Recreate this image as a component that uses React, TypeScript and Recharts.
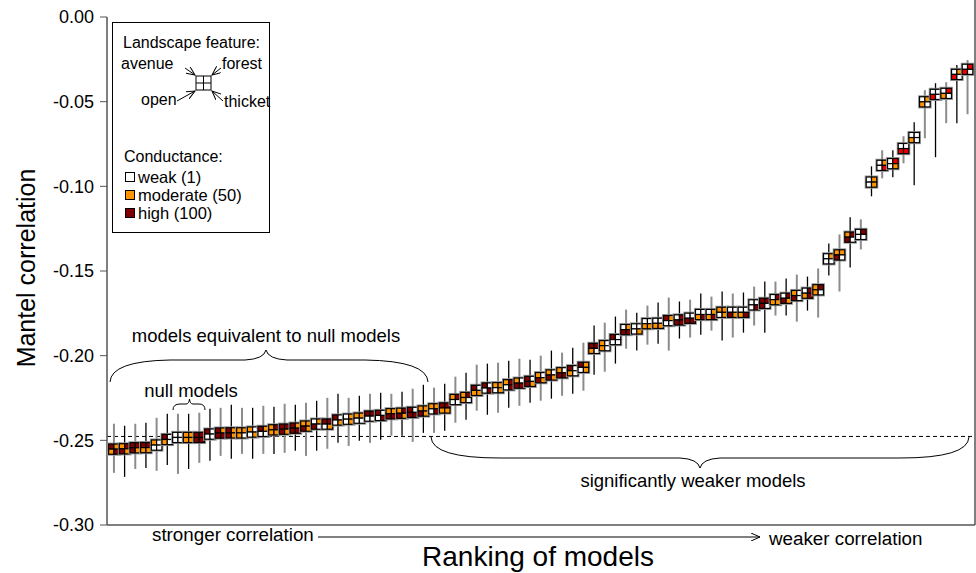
import React from 'react'
import { ComposedChart, Scatter, XAxis, YAxis, ErrorBar, ReferenceLine } from 'recharts'

// ─── Data ────────────────────────────────────────────────────────────────────

const FONT = '"Liberation Sans", Arial, Helvetica, sans-serif'

// Mantel correlation per model, in ranking order
const mantel = [
  -0.2552, -0.2550, -0.2544, -0.2543, -0.2528, -0.2495, -0.2483, -0.2483, -0.2483, -0.2463,
  -0.2457, -0.2456, -0.2456, -0.2451, -0.2447, -0.2438, -0.2434, -0.2428, -0.2416, -0.2404,
  -0.2404, -0.2380, -0.2375, -0.2369, -0.2357, -0.2353, -0.2343, -0.2340, -0.2335, -0.2327,
  -0.2314, -0.2309, -0.2259, -0.2247, -0.2205, -0.2191, -0.2189, -0.2172, -0.2162, -0.2152,
  -0.2130, -0.2114, -0.2101, -0.2089, -0.2069, -0.1957, -0.1941, -0.1905, -0.1846, -0.1842,
  -0.1811, -0.1809, -0.1793, -0.1789, -0.1779, -0.1757, -0.1757, -0.1744, -0.1744, -0.1744,
  -0.1700, -0.1691, -0.1669, -0.1661, -0.1645, -0.1631, -0.1611, -0.1428, -0.1405, -0.1300,
  -0.1284, -0.0975, -0.0876, -0.0866, -0.0777, -0.0712, -0.0501, -0.0457, -0.0451, -0.0339,
  -0.0309,
]

// upper end of each interval
const ciHigh = [
  -0.2402, -0.2414, -0.2402, -0.2396, -0.2367, -0.2343, -0.2343, -0.2343, -0.2337, -0.2314,
  -0.2308, -0.2290, -0.2308, -0.2308, -0.2296, -0.2302, -0.2284, -0.2290, -0.2278, -0.2266,
  -0.2249, -0.2225, -0.2249, -0.2237, -0.2225, -0.2219, -0.2225, -0.2213, -0.2195, -0.2172,
  -0.2189, -0.2166, -0.2124, -0.2101, -0.2053, -0.2047, -0.2041, -0.2030, -0.2018, -0.2024,
  -0.2000, -0.1970, -0.1982, -0.1953, -0.1923, -0.1822, -0.1805, -0.1769, -0.1728, -0.1746,
  -0.1704, -0.1686, -0.1657, -0.1680, -0.1669, -0.1633, -0.1651, -0.1621, -0.1633, -0.1627,
  -0.1592, -0.1562, -0.1562, -0.1544, -0.1521, -0.1533, -0.1485, -0.1337, -0.1284, -0.1183,
  -0.1195, -0.0882, -0.0787, -0.0787, -0.0704, -0.0621, -0.0432, -0.0391, -0.0385, -0.0284,
  -0.0254,
]

// lower end of each interval
const ciLow = [
  -0.2692, -0.2716, -0.2669, -0.2663, -0.2680, -0.2645, -0.2698, -0.2669, -0.2633, -0.2621,
  -0.2592, -0.2609, -0.2580, -0.2609, -0.2580, -0.2580, -0.2574, -0.2562, -0.2592, -0.2562,
  -0.2550, -0.2515, -0.2533, -0.2503, -0.2515, -0.2497, -0.2473, -0.2473, -0.2509, -0.2456,
  -0.2456, -0.2444, -0.2396, -0.2379, -0.2325, -0.2349, -0.2337, -0.2308, -0.2296, -0.2278,
  -0.2266, -0.2254, -0.2237, -0.2225, -0.2207, -0.2112, -0.2095, -0.2047, -0.1959, -0.1970,
  -0.1935, -0.1929, -0.1970, -0.1899, -0.1893, -0.1876, -0.1852, -0.1911, -0.1893, -0.1864,
  -0.1822, -0.1864, -0.1763, -0.1763, -0.1799, -0.1734, -0.1775, -0.1527, -0.1621, -0.1479,
  -0.1373, -0.1059, -0.0953, -0.0947, -0.0864, -0.0994, -0.0716, -0.0828, -0.0627, -0.0627,
  -0.0574,
]

// conductance per feature: avenue, forest, open, thicket
// w = weak (1), o = moderate (50), r = high (100), R = high (highlighted)
const conductance = [
  'roor', 'orro', 'rrro', 'rroo', 'owww', 'rwow', 'wwww', 'oooo', 'rrrr', 'rwww',
  'rorr', 'roro', 'ooow', 'owwo', 'roww', 'oroo', 'rrro', 'rorr', 'ooro', 'worw',
  'rrwo', 'rwwo', 'wowo', 'ooww', 'rrww', 'rwwr', 'oorr', 'orro', 'rwrr', 'ooro',
  'oowr', 'rroo', 'orww', 'orow', 'rwoo', 'rwwr', 'oowo', 'orwr', 'owrr', 'rwro',
  'owro', 'owro', 'owrr', 'rwow', 'rowo', 'rrow', 'owow', 'rwww', 'worr', 'wwwo',
  'wwoo', 'wwoo', 'roww', 'wrrr', 'wwrr', 'wwor', 'woor', 'oowo', 'wwro', 'wwor',
  'wwwr', 'rrrw', 'wroo', 'wrro', 'owrw', 'wror', 'orow', 'woww', 'oorw', 'orrw',
  'wrww', 'wowo', 'wowR', 'wRwo', 'wwRR', 'wwow', 'woow', 'wwRw', 'wRow', 'woRw',
  'wRRw',
]

const yTicks = [0, -0.05, -0.1, -0.15, -0.2, -0.25, -0.3]
const nullLimit = -0.2477

const FILL: Record<string, string> = { w: '#ffffff', o: '#ff9400', r: '#7f0000', R: '#ee0000' }

const rows = mantel.map((m, i) => ({
  rank: i + 1,
  mantel: m,
  err: [m - ciLow[i], ciHigh[i] - m],
  code: conductance[i],
}))
const greyRows = rows.filter((_, i) => i % 2 === 0)
const blackRows = rows.filter((_, i) => i % 2 === 1)

// ─── Glyph ───────────────────────────────────────────────────────────────────

function Glyph(props: any) {
  const { cx, cy, payload } = props
  const hx = 5.3
  const hy = 5.1
  const c: string = payload.code
  return (
    <g>
      <rect x={cx - hx} y={cy - hy} width={2 * hx} height={2 * hy} fill="none" stroke="#9a9a9a" strokeWidth={3} />
      {[0, 1, 2, 3].map(k => (
        <rect
          key={k}
          x={cx - hx + (k % 2) * hx}
          y={cy - hy + Math.floor(k / 2) * hy}
          width={hx}
          height={hy}
          fill={FILL[c[k]]}
          stroke="#000"
          strokeWidth={1.2}
        />
      ))}
    </g>
  )
}

const Nothing = () => <g />

// ─── Annotations ─────────────────────────────────────────────────────────────

function Overlay() {
  const t = { fontFamily: FONT, fill: '#000' }
  return (
    <svg width={976} height={573} style={{ position: 'absolute', left: 0, top: 0, pointerEvents: 'none' }}>
      <defs>
        <marker id="ah" markerWidth="10" markerHeight="8" refX="9" refY="4" orient="auto">
          <path d="M0,0 L9,4 L0,8" fill="none" stroke="#000" strokeWidth={1} />
        </marker>
      </defs>
      {/* frame */}
      <line x1={975} y1={0} x2={975} y2={525} stroke="#555" strokeWidth={1.5} />
      <line x1={107} y1={525} x2={975} y2={525} stroke="#555" strokeWidth={1.5} />

      {/* legend */}
      <rect x={112.5} y={22.5} width={157} height={210} fill="#fff" stroke="#000" strokeWidth={1} />
      <text x={123} y={48} fontSize={16} {...t}>Landscape feature:</text>
      <text x={121} y={69} fontSize={16} {...t}>avenue</text>
      <text x={222} y={69} fontSize={16} {...t}>forest</text>
      <text x={141} y={105} fontSize={16} {...t}>open</text>
      <text x={224} y={107} fontSize={16} {...t}>thicket</text>
      <rect x={196} y={76} width={15} height={14} fill="#fff" stroke="#000" />
      <line x1={203.5} y1={76} x2={203.5} y2={90} stroke="#000" />
      <line x1={196} y1={83} x2={211} y2={83} stroke="#000" />
      <line x1={185} y1={68} x2={195} y2={75} stroke="#000" markerEnd="url(#ah)" />
      <line x1={221} y1={68} x2={212} y2={75} stroke="#000" markerEnd="url(#ah)" />
      <line x1={177} y1={101} x2={195} y2={91} stroke="#000" markerEnd="url(#ah)" />
      <line x1={223} y1={101} x2={212} y2={91} stroke="#000" markerEnd="url(#ah)" />
      <text x={124} y={162} fontSize={16} {...t}>Conductance:</text>
      <rect x={125.5} y={172.5} width={9} height={9} fill={FILL.w} stroke="#000" />
      <text x={138} y={183} fontSize={16.5} {...t}>weak (1)</text>
      <rect x={125.5} y={190.5} width={9} height={9} fill={FILL.o} stroke="#000" />
      <text x={138} y={201} fontSize={16.5} {...t}>moderate (50)</text>
      <rect x={125.5} y={208.5} width={9} height={9} fill={FILL.r} stroke="#000" />
      <text x={138} y={219} fontSize={16.5} {...t}>high (100)</text>

      {/* braces */}
      <path d="M110,382 Q111,361 170,360 L245,360 Q264,359 266,350 Q268,359 287,360 L365,360 Q427,361 428,382" fill="none" stroke="#000" />
      <text x={266} y={342} fontSize={18.5} textAnchor="middle" {...t}>models equivalent to null models</text>
      <path d="M173,410 Q173,404 180,404 L186,404 Q189,404 189.5,399 Q190,404 193,404 L199,404 Q205,404 205,410" fill="none" stroke="#000" />
      <text x={191} y={397} fontSize={18.5} textAnchor="middle" {...t}>null models</text>
      <path d="M431,437 Q432,458 500,458 L680,458 Q698,459 700,468 Q702,459 720,458 L900,458 Q968,458 969,437" fill="none" stroke="#000" />
      <text x={693} y={487} fontSize={18.5} textAnchor="middle" {...t}>significantly weaker models</text>

      {/* bottom notes */}
      <text x={152} y={541} fontSize={18.8} {...t}>stronger correlation</text>
      <line x1={318} y1={537} x2={760} y2={537} stroke="#000" markerEnd="url(#ah)" />
      <text x={769} y={545} fontSize={18.8} {...t}>weaker correlation</text>
      <text x={538} y={566} fontSize={28} textAnchor="middle" {...t}>Ranking of models</text>
      <text x={0} y={0} fontSize={25} textAnchor="middle" transform="translate(35,268) rotate(-90)" {...t}>Mantel correlation</text>
    </svg>
  )
}

// ─── Main Component ──────────────────────────────────────────────────────────

export default function App() {
  return (
    <div style={{ position: 'absolute', left: 0, top: 0, width: 976, height: 573, background: '#fff' }}>
      <ComposedChart width={976} height={573} margin={{ top: 17, right: 1, bottom: 48, left: 0 }}>
        <XAxis type="number" dataKey="rank" domain={[0.35, 81.7]} hide />
        <YAxis
          type="number"
          dataKey="mantel"
          domain={[-0.3, 0]}
          ticks={yTicks}
          width={107}
          tickSize={7}
          tickMargin={6}
          tickFormatter={(v: number) => v.toFixed(2)}
          tick={{ fontSize: 18, fill: '#000', fontFamily: FONT }}
          axisLine={{ stroke: '#555', strokeWidth: 1.5 }}
          tickLine={{ stroke: '#555' }}
        />
        <ReferenceLine y={nullLimit} stroke="#000" strokeDasharray="4 3" />
        <Scatter data={greyRows} dataKey="mantel" shape={Nothing} isAnimationActive={false}>
          <ErrorBar dataKey="err" direction="y" width={0} stroke="#8c8c8c" strokeWidth={2} />
        </Scatter>
        <Scatter data={blackRows} dataKey="mantel" shape={Nothing} isAnimationActive={false}>
          <ErrorBar dataKey="err" direction="y" width={0} stroke="#000" strokeWidth={1.3} />
        </Scatter>
        <Scatter data={rows} dataKey="mantel" shape={Glyph} isAnimationActive={false} />
      </ComposedChart>
      <Overlay />
    </div>
  )
}
